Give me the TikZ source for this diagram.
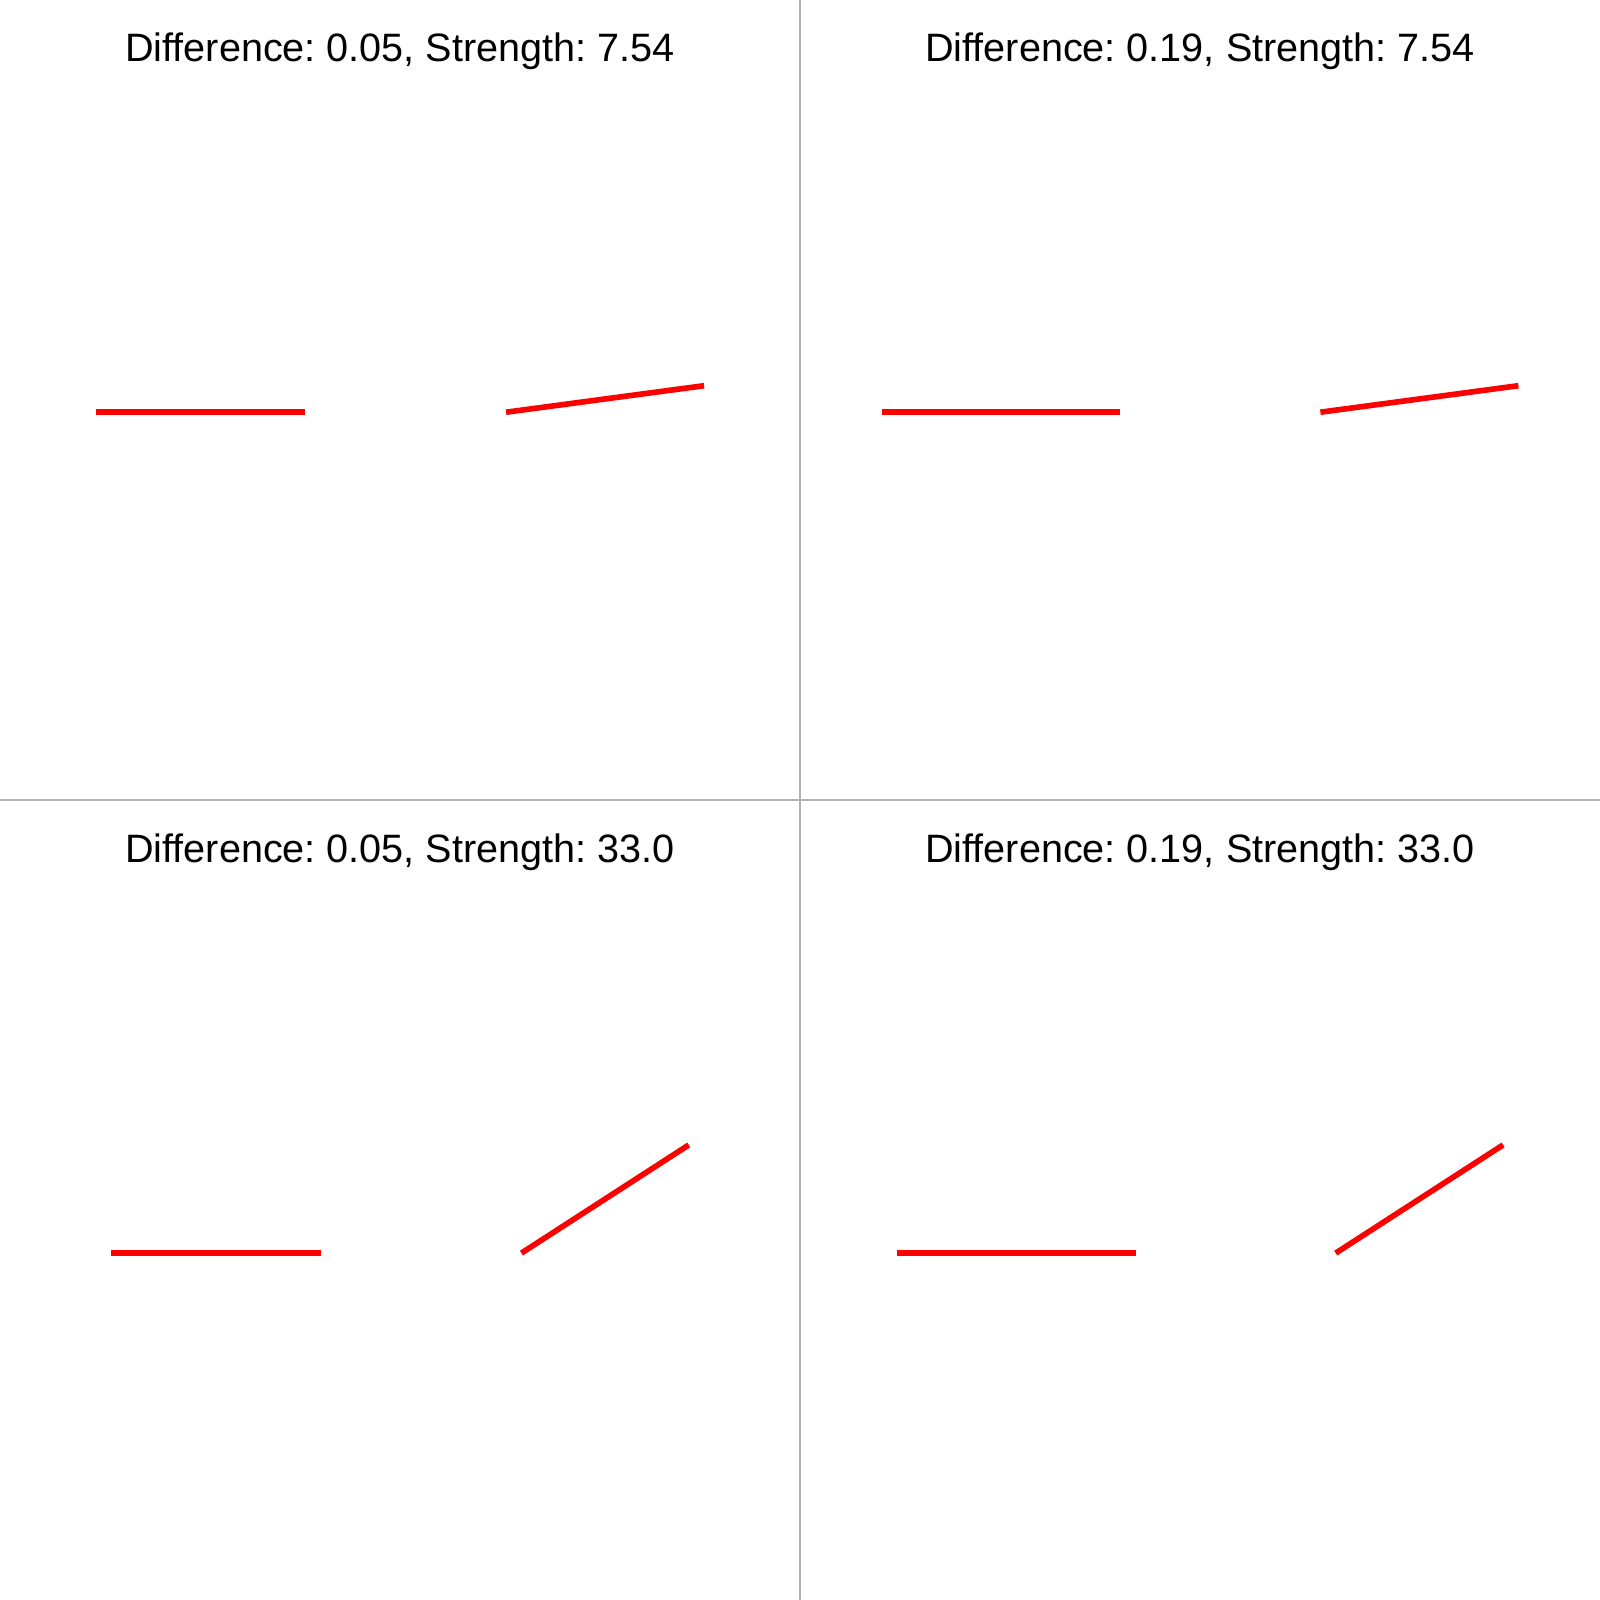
\documentclass[tikz,border=0pt]{standalone}
\usepackage{fontspec}
\setmainfont{Liberation Sans}
\usepackage{tikz}
\usetikzlibrary{calc}
\frenchspacing
\tikzstyle{bar} = [red,line width=1.6pt]
\tikzstyle{divider} = [black!30,line width=0.3pt]
\tikzstyle{title} = [anchor=base,inner sep=0pt,font=\fontsize{11.26}{13.5}\selectfont]

\begin{document}
\begin{tikzpicture}[x=0.01cm,y=-0.01cm]
\useasboundingbox (0,0) rectangle (1600,1600);

\coordinate (TOP) at (800,0);
\coordinate (BOT) at (800,1600);
\coordinate (LFT) at (0,800);
\coordinate (RGT) at (1600,800);

% panel titles
\node[title] (T11) at (400,62)  {Difference: 0.05, Strength: 7.54};
\node[title] (T12) at (1200,62) {Difference: 0.19, Strength: 7.54};
\node[title] (T21) at (400,862) {Difference: 0.05, Strength: 33.0};
\node[title] (T22) at (1200,862) {Difference: 0.19, Strength: 33.0};

% segment ends
\coordinate (A11) at (96,412.2);    \coordinate (B11) at (305.1,412.2);
\coordinate (C11) at (506.1,412.2); \coordinate (D11) at (704.1,385.7);
\coordinate (A12) at (881.6,412.2); \coordinate (B12) at (1120.4,412.2);
\coordinate (C12) at (1320.4,412.2);\coordinate (D12) at (1518.4,385.7);
\coordinate (A21) at (111.2,1253.1);\coordinate (B21) at (321.4,1253.1);
\coordinate (C21) at (521.4,1253.1);\coordinate (D21) at (688.8,1144.9);
\coordinate (A22) at (896.9,1253.1);\coordinate (B22) at (1135.7,1253.1);
\coordinate (C22) at (1335.7,1253.1);\coordinate (D22) at (1503.1,1144.9);

\draw [divider] (TOP) -- (BOT);
\draw [divider] (LFT) -- (RGT);

\draw [bar] (A11) -- (B11);
\draw [bar] (C11) -- (D11);
\draw [bar] (A12) -- (B12);
\draw [bar] (C12) -- (D12);
\draw [bar] (A21) -- (B21);
\draw [bar] (C21) -- (D21);
\draw [bar] (A22) -- (B22);
\draw [bar] (C22) -- (D22);

\end{tikzpicture}
\end{document}
